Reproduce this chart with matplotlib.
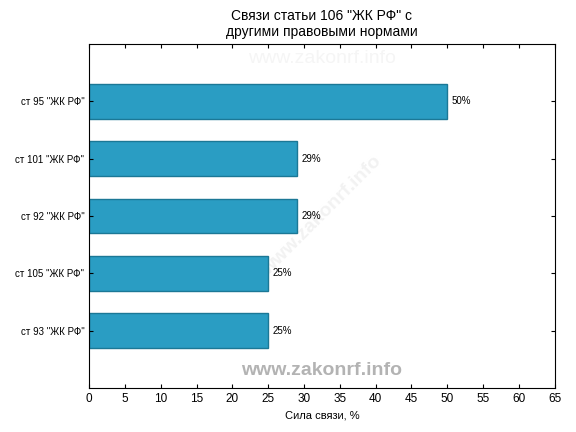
import matplotlib
matplotlib.use("Agg")
import matplotlib.pyplot as plt

categories = ['ст 95 "ЖК РФ"', 'ст 101 "ЖК РФ"', 'ст 92 "ЖК РФ"', 'ст 105 "ЖК РФ"', 'ст 93 "ЖК РФ"']
values = [50, 29, 29, 25, 25]

plt.rcParams['font.family'] = ['Liberation Sans', 'DejaVu Sans']

fig, ax = plt.subplots(figsize=(5.76, 4.32), dpi=100)
fig.subplots_adjust(left=0.155, right=0.963, top=0.898, bottom=0.102)

pos = list(range(len(categories)))
ax.barh(pos, values, height=0.6, color='#2a9dc3', edgecolor='#1b7896', linewidth=1)
for p, v in zip(pos, values):
    ax.text(v + 0.6, p, f'{v}%', va='center', ha='left', fontsize=7)

ax.set_yticks(pos)
ax.set_yticklabels(categories, fontsize=7)
ax.set_ylim(5, -1)
ax.set_xlim(0, 65)
ax.set_xticks(range(0, 66, 5))
ax.tick_params(axis='x', labelsize=8.5, direction='in', top=True, length=3)
ax.tick_params(axis='y', direction='in', right=True, length=3)
ax.set_xlabel('Сила связи, %', fontsize=8)
ax.set_title('Связи статьи 106 "ЖК РФ" с\nдругими правовыми нормами', fontsize=10)

# водяные знаки
ax.text(32.5, -0.75, 'www.zakonrf.info', ha='center', va='center', fontsize=14,
        color='#f5f5f5', zorder=0)
ax.text(32.5, 2.0, 'www.zakonrf.info', ha='center', va='center', fontsize=14,
        color='#f2f2f2', fontweight='bold', rotation=45, zorder=0)
ax.text(32.5, 4.7, 'www.zakonrf.info', ha='center', va='center', fontsize=14,
        color='#b3b3b3', fontweight='bold', zorder=5)

fig.savefig('out.png', dpi=100)
